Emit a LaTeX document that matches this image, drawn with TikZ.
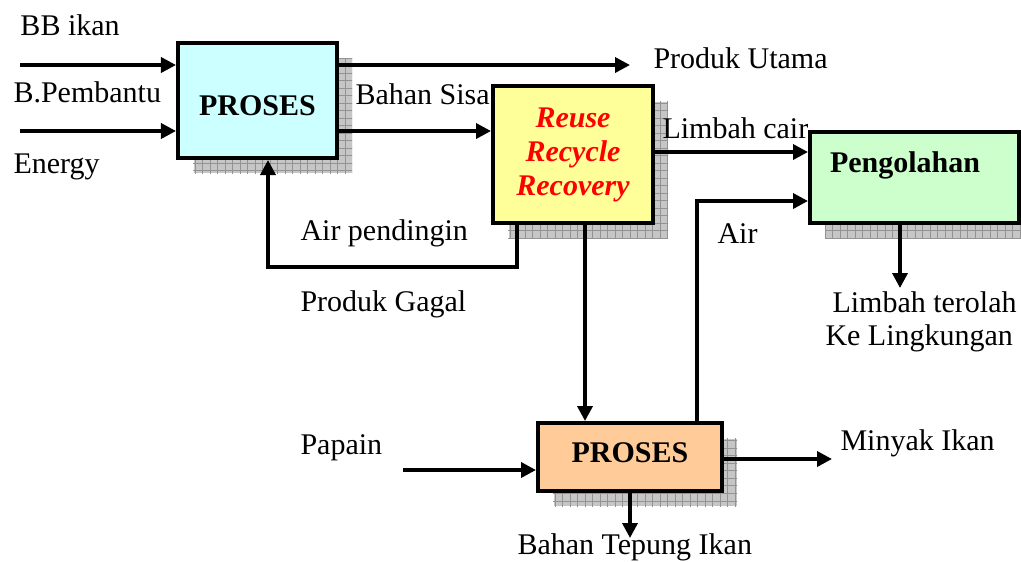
\documentclass[tikz,border=0pt]{standalone}
\usepackage{fontspec}
\setmainfont{Liberation Serif}
\usetikzlibrary{arrows.meta,patterns,shadows}

\definecolor{biru}{RGB}{204,255,255}
\definecolor{kuning}{RGB}{255,255,153}
\definecolor{hijau}{RGB}{204,255,204}
\definecolor{jingga}{RGB}{255,204,153}
\definecolor{merah}{RGB}{255,0,0}

\tikzset{
  kotak/.style={draw, line width=1.6pt, inner sep=0pt, font=\bfseries\fontsize{12pt}{14pt}\selectfont,
    general shadow={shadow xshift=6pt, shadow yshift=-6pt, fill=gray!45,
      draw=white, line width=0.4pt, postaction={pattern=grid, pattern color=gray!85}}},
  panah/.style={-{Triangle[length=6pt,width=6pt]}, line width=1.4pt},
  teks/.style={anchor=base west, inner sep=0pt}
}

\begin{document}
\begin{tikzpicture}[x=0.4pt, y=-0.4pt, font=\fontsize{12pt}{14pt}\selectfont]
    \useasboundingbox (0,0) rectangle (1021,561);

    % Kotak proses
    \node[kotak, fill=biru, minimum width=63.6pt, text height=28.8pt, text depth=17.2pt] (p1) at (257.5,100.5) {PROSES};
    \node[kotak, fill=kuning, minimum width=64pt, minimum height=54.8pt, align=center,
      text=merah, font=\bfseries\itshape\fontsize{12pt}{13.6pt}\selectfont] (rrr) at (573,154.5)
      {Reuse\\Recycle\\Recovery};
    \node[kotak, fill=hijau, minimum width=83.6pt, text width=75.6pt, inner xsep=4pt, align=left,
      text height=16pt, text depth=20.4pt] (olah) at (914.5,177.5) {\hspace*{4pt}Pengolahan};
    \node[kotak, fill=jingga, minimum width=73.6pt, text height=15.6pt, text depth=11.6pt] (p2) at (630,457) {PROSES};

    % Titik bebas
    \coordinate (bb) at (20,65);
    \coordinate (bp) at (20,131);
    \coordinate (utama) at (630,65);
    \coordinate (kiri) at (268,267);
    \coordinate (kanan) at (517,267);
    \coordinate (atas) at (697,201);
    \coordinate (buang) at (900,288);
    \coordinate (papain) at (403,470);
    \coordinate (minyak) at (832,459);
    \coordinate (tepung) at (630,538);

    % Masukan dan keluaran
    \draw[panah] (bb) -- (bb -| p1.west);
    \draw[panah] (bp) -- (bp -| p1.west);
    \draw[panah] (p1.east |- utama) -- (utama);
    \draw[panah] (p1.east |- bp) -- (bp -| rrr.west);
    \draw[panah] (rrr.east |- 0,152) -- (olah.west |- 0,152);
    \draw[panah] (kanan |- rrr.south) -- (kanan) -- (kiri) -- (kiri |- p1.south);
    \draw[panah] (rrr.south -| 585,0) -- (p2.north -| 585,0);
    \draw[panah] (p2.north -| atas) -- (atas) -- (atas -| olah.west);
    \draw[panah] (olah.south -| buang) -- (buang);
    \draw[panah] (papain) -- (papain -| p2.west);
    \draw[panah] (p2.east |- minyak) -- (minyak);
    \draw[panah] (p2.south -| tepung) -- (tepung);

    % Label
    \node[teks] (lbb) at (20,35) {BB ikan};
    \node[teks] (lbp) at (13,102) {B.Pembantu};
    \node[teks] (len) at (13,173) {Energy};
    \node[teks] (lut) at (653,68) {Produk Utama};
    \node[teks] (lbs) at (355,104) {Bahan Sisa};
    \node[teks] (llc) at (662,138) {Limbah cair};
    \node[teks] (lap) at (300,240) {Air pendingin};
    \node[teks] (lpg) at (300,311) {Produk Gagal};
    \node[teks] (lair) at (717,243) {Air};
    \node[teks] (llt) at (832,312) {Limbah terolah};
    \node[teks] (lkl) at (825,345) {Ke Lingkungan};
    \node[teks] (lpa) at (300,454) {Papain};
    \node[teks] (lmi) at (840,450) {Minyak Ikan};
    \node[teks] (lbt) at (517,554) {Bahan Tepung Ikan};

\end{tikzpicture}
\end{document}
